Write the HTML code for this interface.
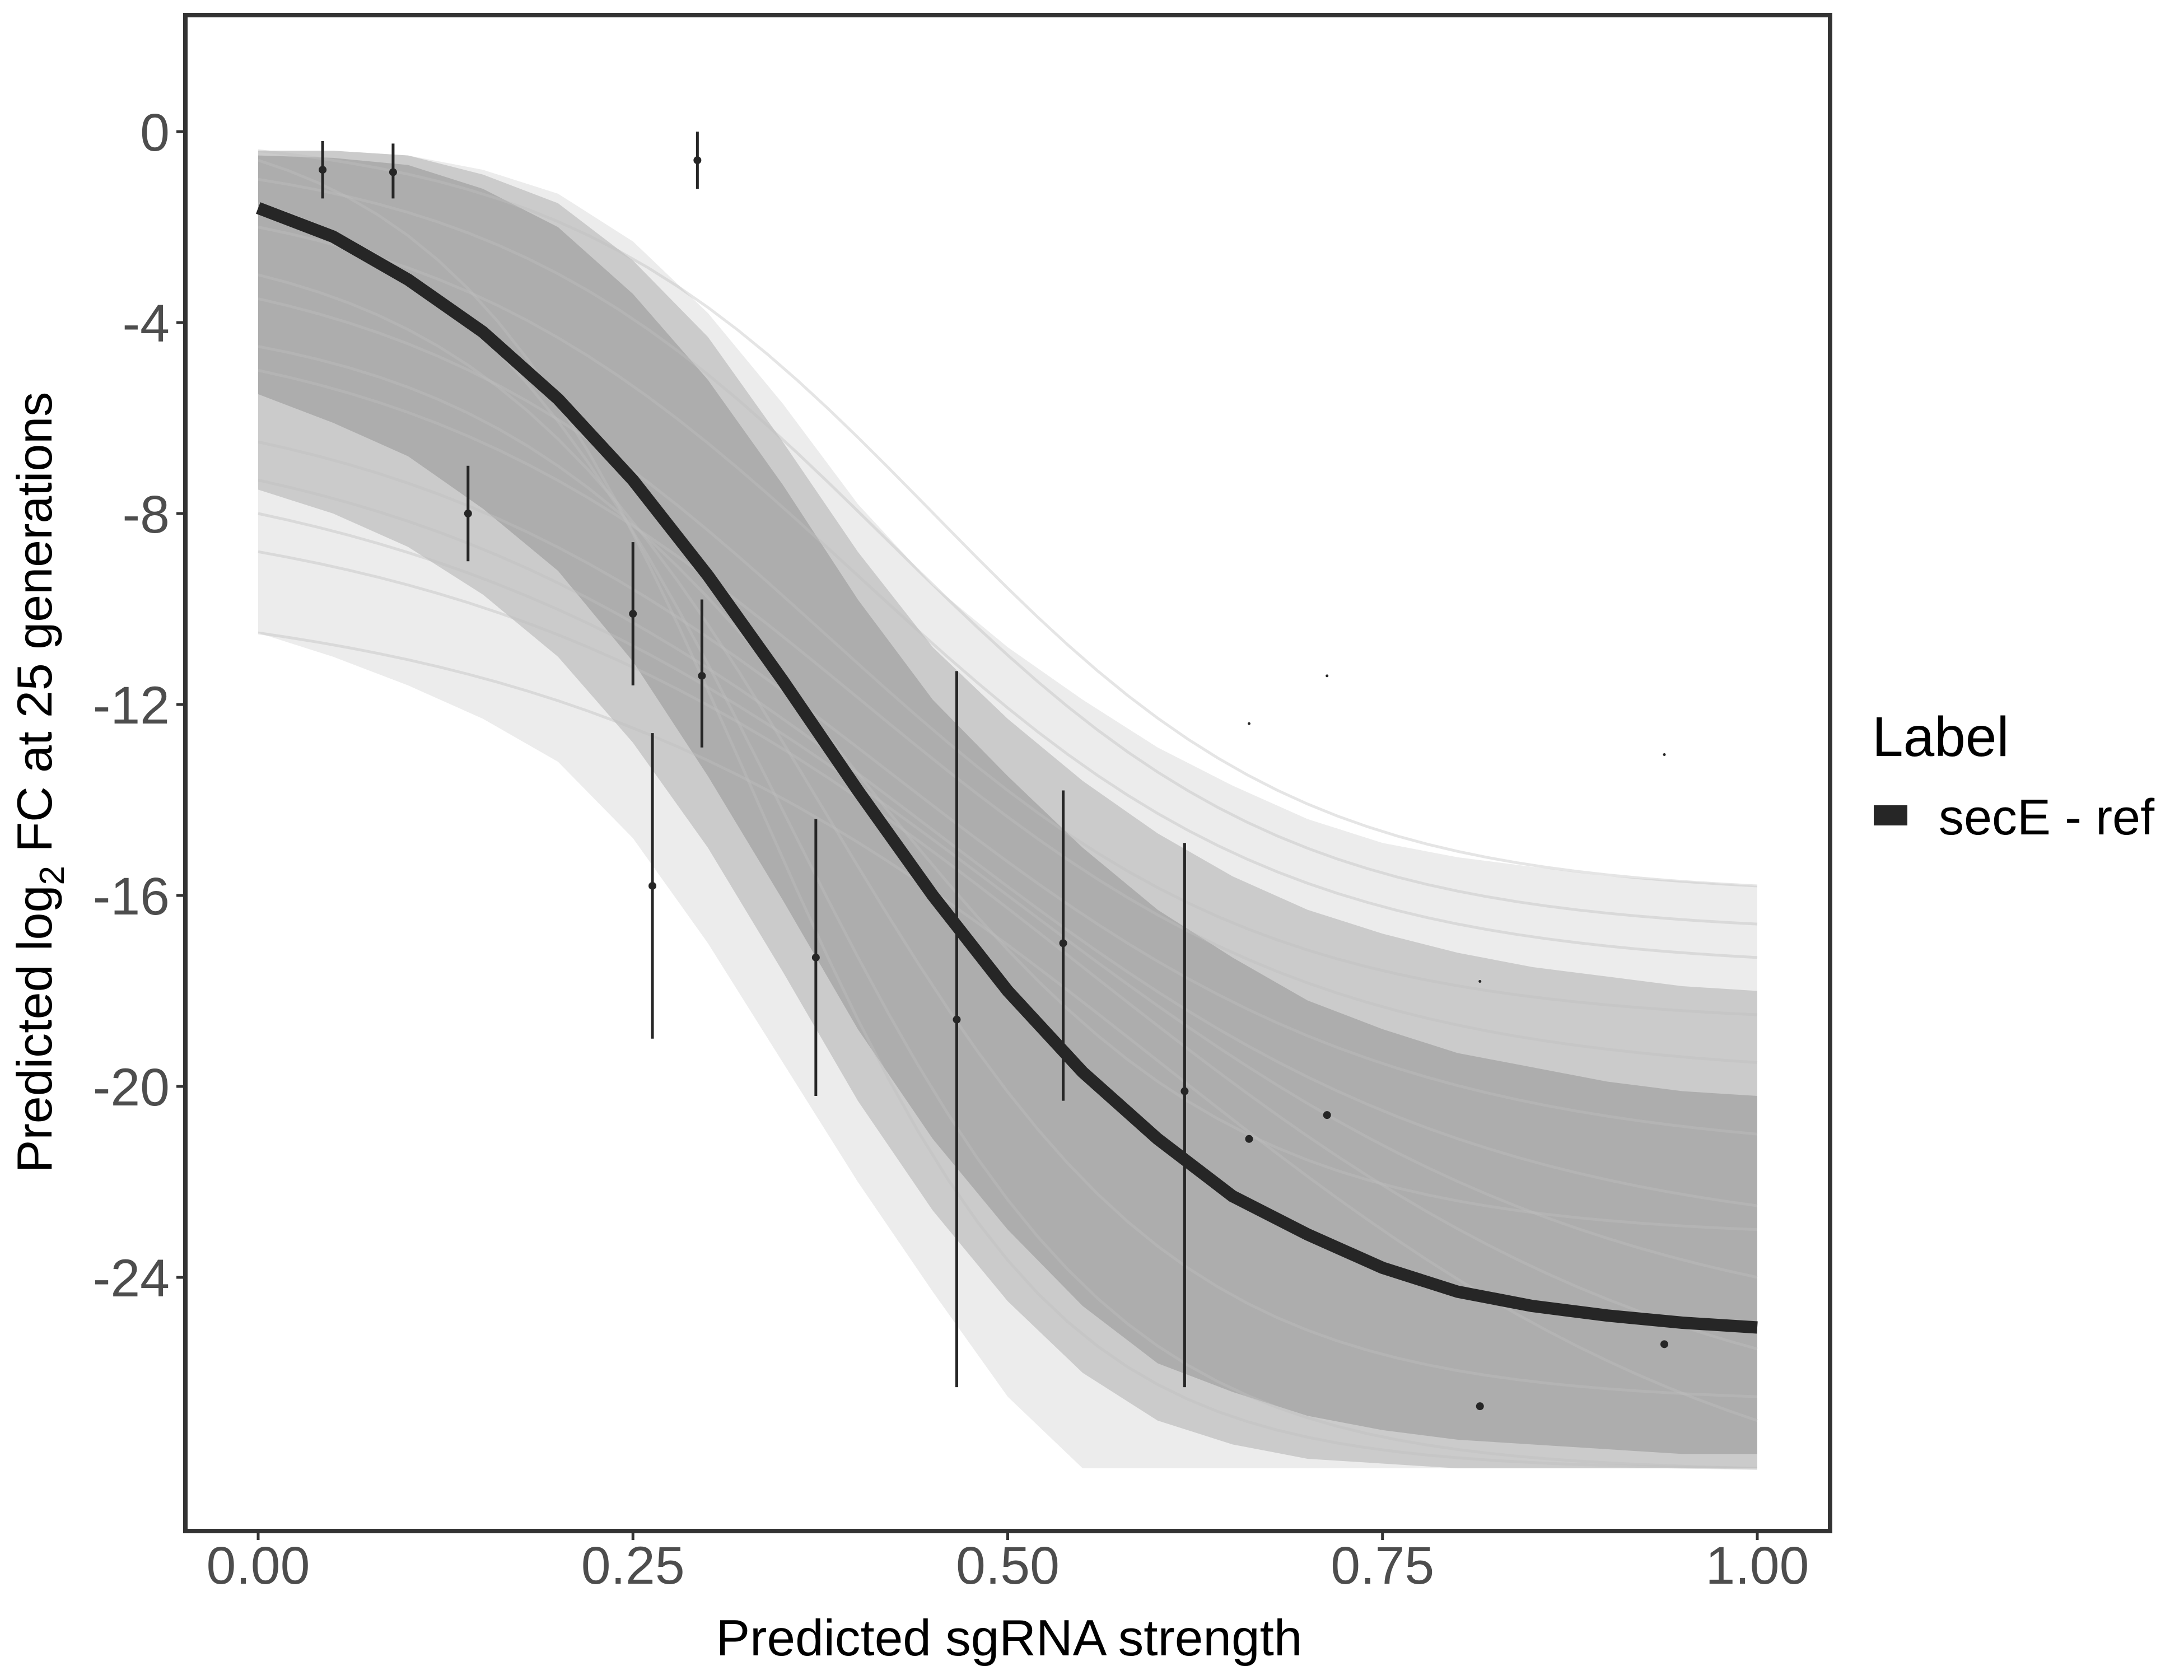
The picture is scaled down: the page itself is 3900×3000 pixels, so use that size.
<!DOCTYPE html>
<html><head><meta charset="utf-8"><style>
html,body{margin:0;padding:0;background:#fff}
svg{display:block}
text{font-family:"Liberation Sans",sans-serif}
</style></head><body>
<svg id="chart" width="3900" height="3000" viewBox="0 0 3900 3000" xmlns="http://www.w3.org/2000/svg">
<rect x="0" y="0" width="3900" height="3000" fill="#fff"/>
<g id="bands"></g>
<g id="lines"></g>
<path id="mainCurve" fill="none" stroke="#262626" stroke-width="22" stroke-linejoin="round"/>
<g id="points"></g>
<rect x="331" y="27" width="2937" height="2707" fill="none" stroke="#333" stroke-width="8"/>
<g id="xticks"></g>
<g id="yticks"></g>
<text x="1802" y="2956" font-size="91" text-anchor="middle" fill="#000">Predicted sgRNA strength</text>
<text transform="translate(92,1397) rotate(-90)" font-size="88" text-anchor="middle" fill="#000">Predicted  log<tspan font-size="62" dy="22">2</tspan><tspan dy="-22"> FC at 25 generations</tspan></text>
<g>
<text x="3343" y="1350" font-size="100" fill="#000">Label</text>
<rect x="3346" y="1438" width="60" height="36" fill="#262626"/>
<text x="3462" y="1490" font-size="90" fill="#000">secE - ref</text>
</g>
</svg>
<script>
const xTicks=[0,0.25,0.5,0.75,1];
const xTickLabels=["0.00","0.25","0.50","0.75","1.00"];
const yTicks=[0,-4,-8,-12,-16,-20,-24];
const yTickLabels=["0","-4","-8","-12","-16","-20","-24"];
const curveX=[0,0.05,0.1,0.15,0.2,0.25,0.3,0.35,0.4,0.45,0.5,0.55,0.6,0.65,0.7,0.75,0.8,0.85,0.9,0.95,1];
const curveY=[-1.6,-2.2,-3.1,-4.2,-5.6,-7.3,-9.3,-11.5,-13.8,-16.0,-18.0,-19.7,-21.1,-22.3,-23.1,-23.8,-24.3,-24.6,-24.8,-24.95,-25.05];
const bandX=[0,0.05,0.1,0.15,0.2,0.25,0.3,0.35,0.4,0.45,0.5,0.55,0.6,0.65,0.7,0.75,0.8,0.85,0.9,0.95,1];
const outerUpper=[-0.4,-0.4,-0.5,-0.8,-1.3,-2.3,-3.8,-5.7,-7.8,-9.5,-10.8,-11.9,-12.9,-13.7,-14.4,-14.9,-15.2,-15.4,-15.6,-15.7,-15.8];
const outerLower=[-10.5,-11.0,-11.6,-12.3,-13.2,-14.8,-17.0,-19.5,-22.0,-24.3,-26.5,-28.0,-28.0,-28.0,-28.0,-28.0,-28.0,-28.0,-28.0,-28.0,-28.0];
const midUpper=[-0.4,-0.4,-0.5,-0.9,-1.5,-2.7,-4.3,-6.5,-8.8,-10.8,-12.3,-13.6,-14.7,-15.6,-16.3,-16.8,-17.2,-17.5,-17.7,-17.9,-18.0];
const midLower=[-7.5,-8.0,-8.7,-9.7,-11.0,-12.8,-15.0,-17.6,-20.3,-22.6,-24.5,-26.0,-27.0,-27.5,-27.8,-27.9,-28.0,-28.0,-28.0,-28.0,-28.0];
const coreUpper=[-0.5,-0.55,-0.7,-1.2,-2.0,-3.4,-5.2,-7.4,-9.8,-11.9,-13.5,-15.0,-16.3,-17.3,-18.2,-18.8,-19.3,-19.6,-19.9,-20.1,-20.2];
const coreLower=[-5.5,-6.1,-6.8,-7.9,-9.2,-11.1,-13.5,-16.1,-18.8,-21.1,-23.0,-24.6,-25.8,-26.4,-26.9,-27.2,-27.4,-27.5,-27.6,-27.7,-27.7];
const ptX=[0.043,0.09,0.14,0.25,0.263,0.293,0.296,0.372,0.466,0.537,0.618,0.661,0.713,0.815,0.938];
const ptY=[-0.8,-0.85,-8,-10.1,-15.8,-0.6,-11.4,-17.3,-18.6,-17,-20.1,-21.1,-20.6,-26.7,-25.4];
const ptLo=[-1.4,-1.4,-9,-11.6,-19,-1.2,-12.9,-20.2,-26.3,-20.3,-26.3,null,null,null,null];
const ptHi=[-0.2,-0.25,-7,-8.6,-12.6,0,-9.8,-14.4,-11.3,-13.8,-14.9,null,null,null,null];
const tinyX=[0.661,0.713,0.815,0.938];
const tinyY=[-12.4,-11.4,-17.8,-13.05];
const lineStart=[-0.4,-1.0,-2.0,-3.5,-5.0,-6.5,-7.3,-8.0,-8.8,-10.5,-0.6,-1.5,-3.0,-4.5];
const lineEnd=[-15.8,-16.6,-17.3,-18.5,-19.5,-21,-22.5,-24,-25.5,-27,-28,-28,-26.5,-23];
const lineMid=[0.45,0.42,0.4,0.38,0.4,0.42,0.45,0.5,0.55,0.6,0.33,0.35,0.38,0.4];
const lineSteep=[8,7.5,7,7,6.5,6,5.5,5,5,5,10,9,8.5,8];

const NS="http://www.w3.org/2000/svg";
const sx=v=>461+v*2677;
const sy=v=>235-v*85.25;
function mk(tag,attrs,parent){const e=document.createElementNS(NS,tag);for(const k in attrs)e.setAttribute(k,attrs[k]);parent.appendChild(e);return e;}

const bands=document.getElementById('bands');
function band(up,lo,color,name){
  let d="M"+bandX.map((x,i)=>sx(x)+","+sy(up[i])).join("L");
  d+="L"+bandX.slice().reverse().map((x,j)=>{const i=bandX.length-1-j;return sx(x)+","+sy(lo[i]);}).join("L")+"Z";
  const p=mk('path',{d:d,fill:color},bands);
  
  
}
band(outerUpper,outerLower,"#ececec","outer-band");
band(midUpper,midLower,"#cbcbcb","middle-band");
band(coreUpper,coreLower,"#adadad","core-band");

const lines=document.getElementById('lines');
lineStart.forEach((s,i)=>{
  const pts=[];
  const a=1/(1+Math.exp(lineSteep[i]*(0-lineMid[i]))), b=1/(1+Math.exp(lineSteep[i]*(1-lineMid[i])));
  for(let t=0;t<=1.0001;t+=0.02){
    const f=(1/(1+Math.exp(lineSteep[i]*(t-lineMid[i])))-b)/(a-b);
    const y=Math.max(-28,lineEnd[i]+(s-lineEnd[i])*f);
    pts.push(sx(t)+","+sy(y));
  }
  const p=mk('polyline',{points:pts.join(" "),fill:"none",stroke:"#bdbdbd","stroke-width":5,"stroke-opacity":0.4},lines);
  
  
});

document.getElementById('mainCurve').setAttribute('d',"M"+curveX.map((x,i)=>sx(x)+","+sy(curveY[i])).join("L"));

const pts=document.getElementById('points');
ptX.forEach((x,i)=>{
  if(ptLo[i]!==null){
    const l=mk('line',{x1:sx(x),x2:sx(x),y1:sy(ptLo[i]),y2:sy(ptHi[i]),stroke:"#262626","stroke-width":5},pts);
    
    
  }
  const c=mk('circle',{cx:sx(x),cy:sy(ptY[i]),r:7,fill:"#262626"},pts);
  
  
});
tinyX.forEach((x,i)=>{
  const c=mk('circle',{cx:sx(x),cy:sy(tinyY[i]),r:2.5,fill:"#262626"},pts);
  
  
});

const xg=document.getElementById('xticks');
xTicks.forEach((v,i)=>{
  const t=mk('line',{x1:sx(v),x2:sx(v),y1:2734,y2:2750,stroke:"#333","stroke-width":5},xg);
  
  
  const tx=mk('text',{x:sx(v),y:2828,"font-size":95,"text-anchor":"middle",fill:"#4d4d4d"},xg);
  tx.textContent=xTickLabels[i];
  
  
});
const yg=document.getElementById('yticks');
yTicks.forEach((v,i)=>{
  const t=mk('line',{x1:315,x2:331,y1:sy(v),y2:sy(v),stroke:"#333","stroke-width":5},yg);
  
  
  const tx=mk('text',{x:303,y:sy(v)+34,"font-size":95,"text-anchor":"end",fill:"#4d4d4d"},yg);
  tx.textContent=yTickLabels[i];
  
  
});
</script>
</body></html>
